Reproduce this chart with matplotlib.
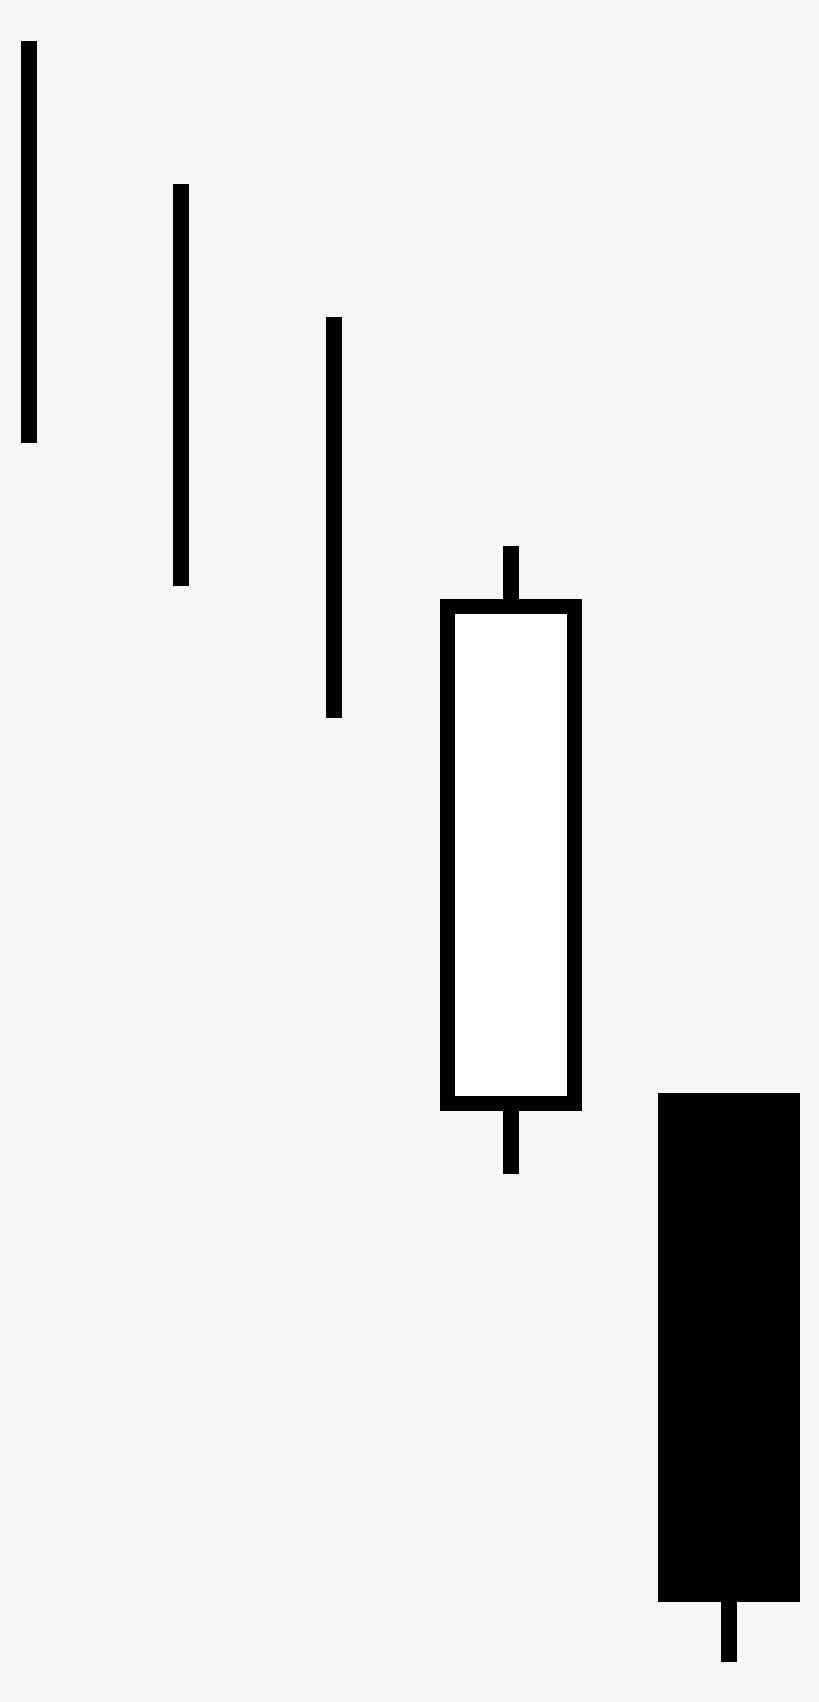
import matplotlib.pyplot as plt

# candle data (pixel-like price units, axis inverted)
x = [29, 181, 334, 511, 729]
high = [41, 184, 317, 546, 1093]
low = [443, 586, 718, 1174, 1662]
open_ = [41, 184, 317, 1111, 1093]
close = [443, 586, 718, 599, 1602]
body = ['line', 'line', 'line', 'hollow', 'filled']

fig = plt.figure(figsize=(8.2, 17.02), dpi=100)
fig.patch.set_facecolor('#f6f6f6')
ax = fig.add_axes([0, 0, 1, 1])
ax.set_facecolor('#f6f6f6')
ax.set_xlim(0, 820)
ax.set_ylim(1702, 0)
ax.axis('off')

wick_w = 16
body_w = 142
edge = 15

for xi, hi, lo, op, cl, kind in zip(x, high, low, open_, close, body):
    # wick
    ax.bar(xi, lo - hi, bottom=hi, width=wick_w, color='black')
    if kind == 'line':
        continue
    top, bot = min(op, cl), max(op, cl)
    ax.bar(xi, bot - top, bottom=top, width=body_w, color='black')
    if kind == 'hollow':
        ax.bar(xi, bot - top - 2 * edge, bottom=top + edge,
               width=body_w - 2 * edge, color='white')

fig.savefig('out.png', dpi=100, facecolor=fig.get_facecolor())
